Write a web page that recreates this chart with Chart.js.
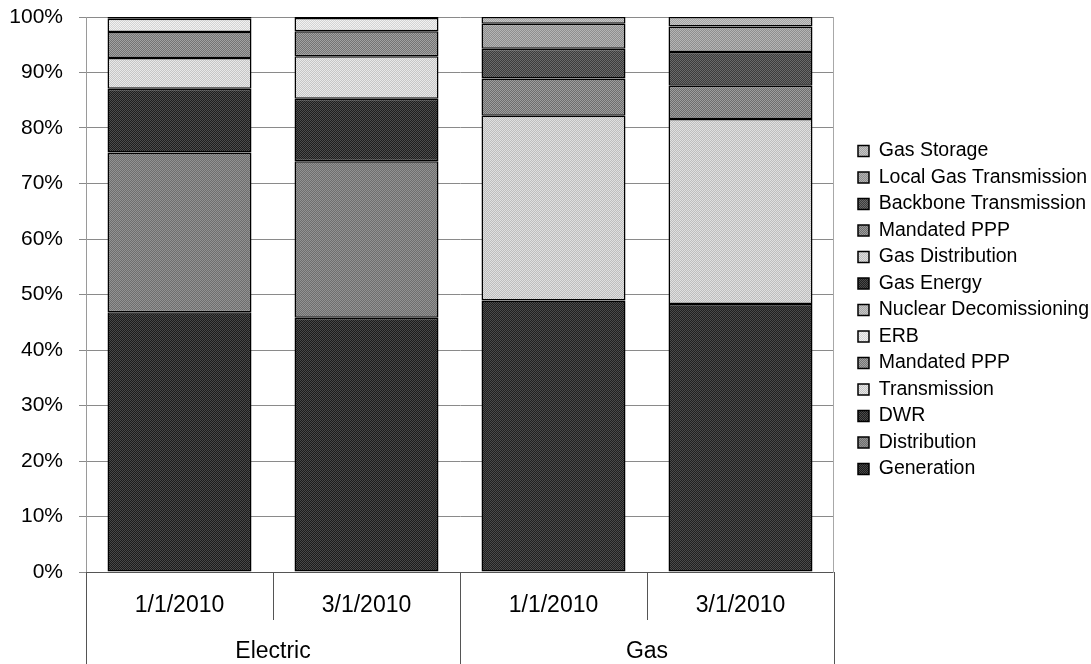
<!DOCTYPE html>
<html>
<head>
<meta charset="utf-8">
<script src="https://cdn.jsdelivr.net/npm/chart.js@4.4.1/dist/chart.umd.min.js"></script>
<style>
  html, body { margin: 0; padding: 0; background: #fff; }
  #wrap { width: 1091px; height: 664px; }
</style>
</head>
<body>
<div id="wrap"><canvas id="costChart" width="1091" height="664"></canvas></div>
<script>
// categories: date under each bar, and the group each bar belongs to
const dates = ["1/1/2010", "3/1/2010", "1/1/2010", "3/1/2010"];
const groups = ["Electric", "Electric", "Gas", "Gas"];
const groupNames = ["Electric", "Gas"];

// series values (percent of total), bottom of stack first
const generation = [46.8, 45.8, null, null];
const distribution = [28.8, 28.2, null, null];
const dwr = [11.45, 11.25, null, null];
const transmission = [5.55, 7.7, null, null];
const mandatedPppElec = [4.7, 4.5, null, null];
const erb = [2.4, 2.35, null, null];
const nuclear = [0.3, 0.2, null, null];
const gasEnergy = [null, null, 48.9, 48.3];
const gasDistribution = [null, null, 33.3, 33.3];
const mandatedPppGas = [null, null, 6.7, 6.0];
const backbone = [null, null, 5.4, 6.1];
const localGas = [null, null, 4.5, 4.6];
const gasStorage = [null, null, 1.2, 1.7];

const yTicks = [0, 10, 20, 30, 40, 50, 60, 70, 80, 90, 100];

const FONT = "'Liberation Sans', Arial, sans-serif";

// small checkerboard fill, like the printed grey textures
function texture(a, b) {
  const c = document.createElement("canvas");
  c.width = 2;
  c.height = 2;
  const g = c.getContext("2d");
  g.fillStyle = a;
  g.fillRect(0, 0, 2, 2);
  g.fillStyle = b;
  g.fillRect(0, 0, 1, 1);
  g.fillRect(1, 1, 1, 1);
  return g.createPattern(c, "repeat");
}

function ds(label, data, fill) {
  return {
    label: label,
    data: data,
    backgroundColor: fill,
    borderColor: "#000",
    borderWidth: 1.5,
    borderSkipped: false,
    categoryPercentage: 1.0,
    barPercentage: 0.77
  };
}

const datasets = [
  ds("Generation", generation, texture("#1c1c1c", "#484848")),
  ds("Distribution", distribution, texture("#6e6e6e", "#929292")),
  ds("DWR", dwr, texture("#1e1e1e", "#4c4c4c")),
  ds("Transmission", transmission, texture("#c6c6c6", "#e8e8e8")),
  ds("Mandated PPP", mandatedPppElec, texture("#747474", "#a2a2a2")),
  ds("ERB", erb, texture("#d4d4d4", "#f2f2f2")),
  ds("Nuclear Decomissioning", nuclear, texture("#a6a6a6", "#c6c6c6")),
  ds("Gas Energy", gasEnergy, texture("#202020", "#4a4a4a")),
  ds("Gas Distribution", gasDistribution, texture("#bebebe", "#e0e0e0")),
  ds("Mandated PPP", mandatedPppGas, texture("#6e6e6e", "#9e9e9e")),
  ds("Backbone Transmission", backbone, texture("#3c3c3c", "#6a6a6a")),
  ds("Local Gas Transmission", localGas, texture("#8e8e8e", "#b4b4b4")),
  ds("Gas Storage", gasStorage, texture("#a4a4a4", "#c6c6c6"))
];

// two-level category axis below the plot
const groupAxis = {
  id: "groupAxis",
  afterDraw(chart) {
    const ctx = chart.ctx;
    const x = chart.scales.x;
    const area = chart.chartArea;
    const n = dates.length;
    const pos = dates.map((_, i) => x.getPixelForValue(i));
    const half = (pos[1] - pos[0]) / 2;
    ctx.save();
    ctx.strokeStyle = "#555";
    ctx.lineWidth = 1;
    // separators
    for (let i = 0; i <= n; i++) {
      const px = i === n ? pos[n - 1] + half : pos[i] - half;
      const groupEdge = i === 0 || i === n || groups[i] !== groups[i - 1];
      const bottom = groupEdge ? chart.height : area.bottom + 48;
      ctx.beginPath();
      ctx.moveTo(Math.round(px) + 0.5, area.bottom);
      ctx.lineTo(Math.round(px) + 0.5, bottom);
      ctx.stroke();
    }
    ctx.fillStyle = "#000";
    ctx.font = "23px " + FONT;
    ctx.textAlign = "center";
    ctx.textBaseline = "middle";
    dates.forEach((d, i) => ctx.fillText(d, pos[i], area.bottom + 34));
    groupNames.forEach(g => {
      const idx = groups.map((v, i) => v === g ? i : -1).filter(i => i >= 0);
      const cx = (pos[idx[0]] + pos[idx[idx.length - 1]]) / 2;
      ctx.fillText(g, cx, area.bottom + 80);
    });
    ctx.restore();
  }
};

new Chart(document.getElementById("costChart"), {
  type: "bar",
  data: { labels: dates, datasets: datasets },
  plugins: [groupAxis],
  options: {
    responsive: false,
    animation: false,
    layout: { padding: { top: 17, bottom: 61, left: 0, right: -8 } },
    plugins: {
      tooltip: { enabled: false },
      legend: {
        position: "right",
        reverse: true,
        maxWidth: 320,
        labels: {
          color: "#000",
          font: { family: FONT, size: 19.5 },
          boxWidth: 11,
          boxHeight: 11,
          padding: 7
        }
      }
    },
    scales: {
      x: {
        stacked: true,
        afterFit(scale) { scale.height = 31; },
        ticks: { display: false },
        grid: { display: false },
        border: { display: true, color: "#555", width: 1 }
      },
      y: {
        stacked: true,
        min: 0,
        max: 100,
        afterFit(scale) {
          scale.width = 86;
          scale.paddingTop = 0;
          scale.paddingBottom = 0;
        },
        afterBuildTicks(scale) { scale.ticks = yTicks.map(v => ({ value: v })); },
        ticks: {
          color: "#000",
          font: { family: FONT, size: 21 },
          padding: 16,
          callback: v => v + "%"
        },
        grid: { color: "#8a8a8a", tickLength: 7, lineWidth: 1 },
        border: { display: true, color: "#9a9a9a" }
      },
      spacer: {
        position: "right",
        afterFit(scale) { scale.width = 17; },
        ticks: { display: false },
        grid: { display: false },
        border: { display: true, color: "#a8a8a8" }
      }
    }
  }
});
</script>
</body>
</html>
